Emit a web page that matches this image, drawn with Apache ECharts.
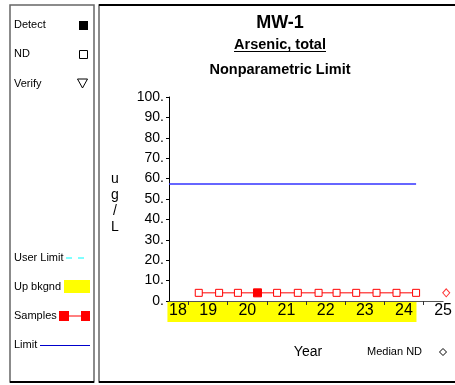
<!DOCTYPE html>
<html>
<head>
<meta charset="utf-8">
<script src="https://cdn.jsdelivr.net/npm/echarts@6/dist/echarts.min.js"></script>
<style>
  html, body { margin: 0; padding: 0; background: #fff; }
  #chart { width: 455px; height: 385px; }
</style>
</head>
<body>
<div id="chart"></div>
<script>
// Sample dates (decimal years, 2-digit) and arsenic concentrations in ug/L
const sampleYears = [18.76, 19.28, 19.76, 20.26, 20.76, 21.29, 21.82, 22.28, 22.78, 23.30, 23.81, 24.31];
const sampleValues = [4, 4, 4, 4, 4, 4, 4, 4, 4, 4, 4, 4];
const sampleDetect = [false, false, false, true, false, false, false, false, false, false, false, false];
// Upper background period and nonparametric limit
const bkgndPeriod = [17.96, 24.32];
const limitValue = 57.3;
// Median of non-detects, shown past the last sample
const medianND = [25.08, 4];
const yTicks = [0, 10, 20, 30, 40, 50, 60, 70, 80, 90, 100];
const xTicks = [18, 19, 20, 21, 22, 23, 24, 25];
const unitLabel = 'u\ng\n/\nL';

const FONT = 'Liberation Sans, Arial, sans-serif';

const samplePoints = sampleYears.map((x, i) => ({
  value: [x, sampleValues[i]],
  symbolSize: sampleDetect[i] ? 8 : 7,
  itemStyle: sampleDetect[i]
    ? { color: '#ff0000', borderColor: '#ff0000' }
    : { color: '#ffffff', borderColor: '#ff0000', borderWidth: 1 }
}));

const chart = echarts.init(document.getElementById('chart'), null, { renderer: 'canvas' });

// Legend panel, frames and titles drawn as plain graphics
const legendItems = [
  { type: 'rect', shape: { x: 10, y: 5, width: 84, height: 377 }, style: { fill: 'none', stroke: '#666', lineWidth: 1.5 } },
  { type: 'line', shape: { x1: 10, y1: 382, x2: 94, y2: 382 }, style: { stroke: '#000', lineWidth: 2 } },
  { type: 'rect', shape: { x: 99, y: 5, width: 380, height: 377 }, style: { fill: 'none', stroke: '#666', lineWidth: 1.5 } },
  { type: 'line', shape: { x1: 99, y1: 5, x2: 455, y2: 5 }, style: { stroke: '#000', lineWidth: 2 } },
  { type: 'line', shape: { x1: 99, y1: 382, x2: 455, y2: 382 }, style: { stroke: '#000', lineWidth: 2 } },

  { type: 'text', x: 14, y: 25, style: { text: 'Detect', font: '11px ' + FONT, fill: '#000', verticalAlign: 'middle' } },
  { type: 'rect', shape: { x: 79, y: 21, width: 9, height: 9 }, style: { fill: '#000' } },
  { type: 'text', x: 14, y: 54, style: { text: 'ND', font: '11px ' + FONT, fill: '#000', verticalAlign: 'middle' } },
  { type: 'rect', shape: { x: 79.5, y: 50.5, width: 8, height: 8 }, style: { fill: 'none', stroke: '#000', lineWidth: 1 } },
  { type: 'text', x: 14, y: 84, style: { text: 'Verify', font: '11px ' + FONT, fill: '#000', verticalAlign: 'middle' } },
  { type: 'polygon', shape: { points: [[77.5, 79], [87.5, 79], [82.5, 88]] }, style: { fill: 'none', stroke: '#000', lineWidth: 1 } },

  { type: 'text', x: 14, y: 258, style: { text: 'User Limit', font: '11px ' + FONT, fill: '#000', verticalAlign: 'middle' } },
  { type: 'line', shape: { x1: 66, y1: 258, x2: 90, y2: 258 }, style: { stroke: '#00ffff', lineWidth: 1, lineDash: [6, 6] } },
  { type: 'text', x: 14, y: 287, style: { text: 'Up bkgnd', font: '11px ' + FONT, fill: '#000', verticalAlign: 'middle' } },
  { type: 'rect', shape: { x: 64, y: 280, width: 26, height: 13 }, style: { fill: '#ffff00' } },
  { type: 'text', x: 14, y: 316, style: { text: 'Samples', font: '11px ' + FONT, fill: '#000', verticalAlign: 'middle' } },
  { type: 'line', shape: { x1: 64, y1: 316, x2: 86, y2: 316 }, style: { stroke: '#ff0000', lineWidth: 1 } },
  { type: 'rect', shape: { x: 59, y: 311, width: 10, height: 10 }, style: { fill: '#ff0000' } },
  { type: 'rect', shape: { x: 81, y: 311, width: 9, height: 10 }, style: { fill: '#ff0000' } },
  { type: 'text', x: 14, y: 345, style: { text: 'Limit', font: '11px ' + FONT, fill: '#000', verticalAlign: 'middle' } },
  { type: 'line', shape: { x1: 40, y1: 345.5, x2: 90, y2: 345.5 }, style: { stroke: '#0000cc', lineWidth: 1 } },

  // Chart titles
  { type: 'text', x: 280, y: 23, style: { text: 'MW-1', font: 'bold 18px ' + FONT, fill: '#000', align: 'center', verticalAlign: 'middle' } },
  { type: 'text', x: 280, y: 45, style: { text: 'Arsenic, total', font: 'bold 14.5px ' + FONT, fill: '#000', align: 'center', verticalAlign: 'middle' } },
  { type: 'line', shape: { x1: 234, y1: 51.5, x2: 326, y2: 51.5 }, style: { stroke: '#000', lineWidth: 1 } },
  { type: 'text', x: 280, y: 70, style: { text: 'Nonparametric Limit', font: 'bold 14.5px ' + FONT, fill: '#000', align: 'center', verticalAlign: 'middle' } },

  // Stacked unit label beside the value axis
  { type: 'text', x: 115, y: 203, style: { text: unitLabel, font: '14px ' + FONT, lineHeight: 16, fill: '#000', align: 'center', verticalAlign: 'middle' } },

  // Footer
  { type: 'text', x: 308, y: 352, style: { text: 'Year', font: '14px ' + FONT, fill: '#000', align: 'center', verticalAlign: 'middle' } },
  { type: 'text', x: 367, y: 352, style: { text: 'Median ND', font: '11px ' + FONT, fill: '#000', verticalAlign: 'middle' } },
  { type: 'polygon', shape: { points: [[443, 348.5], [446.5, 352], [443, 355.5], [439.5, 352]] }, style: { fill: 'none', stroke: '#000', lineWidth: 1 } }
];

chart.setOption({
  animation: false,
  backgroundColor: '#ffffff',
  grid: { left: 169, top: 97, width: 279, height: 204, containLabel: false },
  xAxis: {
    type: 'value',
    min: 18, max: 25, interval: 1,
    z: 5,
    axisLine: { lineStyle: { color: '#555', width: 1 } },
    axisTick: { show: false },
    minorTick: { show: true, splitNumber: 2, length: 4, lineStyle: { color: '#333', width: 1 } },
    splitLine: { show: false },
    axisLabel: { color: '#000', fontSize: 16, fontFamily: FONT, margin: 2, alignMinLabel: 'left', formatter: v => String(v) }
  },
  yAxis: {
    type: 'value',
    min: 0, max: 100, interval: 10,
    axisLine: { show: true, lineStyle: { color: '#000', width: 1 } },
    axisTick: { show: true, length: 3, lineStyle: { color: '#000' } },
    splitLine: { show: false },
    axisLabel: { color: '#000', fontSize: 14, fontFamily: FONT, margin: 5, formatter: v => v + '.' }
  },
  series: [
    {
      // Upper background period band under the date axis
      type: 'custom',
      z: 0,
      clip: false,
      silent: true,
      data: [[bkgndPeriod[0], bkgndPeriod[1]]],
      renderItem: function (params, api) {
        const p0 = api.coord([api.value(0), 0]);
        const p1 = api.coord([api.value(1), 0]);
        return {
          type: 'rect',
          shape: { x: p0[0], y: p0[1], width: p1[0] - p0[0], height: 21 },
          style: { fill: '#ffff00' }
        };
      }
    },
    {
      type: 'line',
      data: [[bkgndPeriod[0] + 0.04, limitValue], [bkgndPeriod[1] - 0.01, limitValue]],
      symbol: 'none',
      lineStyle: { color: '#3333ff', width: 1.5 },
      z: 3
    },
    {
      type: 'line',
      data: samplePoints,
      symbol: 'rect',
      symbolSize: 7,
      showAllSymbol: true,
      lineStyle: { color: '#ff0000', width: 1 },
      z: 4
    },
    {
      type: 'scatter',
      data: [medianND],
      symbol: 'diamond',
      symbolSize: [7, 8],
      clip: false,
      itemStyle: { color: '#ffffff', borderColor: '#ff0000', borderWidth: 1 },
      z: 4
    }
  ],
  graphic: legendItems
});
</script>
</body>
</html>
